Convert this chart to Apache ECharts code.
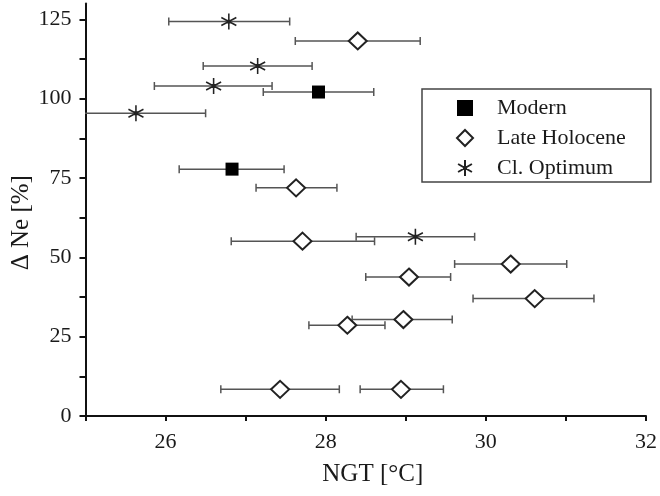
<!DOCTYPE html>
<html>
<head>
<meta charset="utf-8">
<script src="https://cdn.jsdelivr.net/npm/echarts@6/dist/echarts.min.js"></script>
<style>
  html, body { margin: 0; padding: 0; background: #fff; }
  #chart { width: 660px; height: 496px; }
</style>
</head>
<body>
<div id="chart"></div>
<script>
// Noble gas temperature (NGT) vs. neon excess, with horizontal NGT uncertainty
const modernX  = [27.91, 26.83];
const modernY  = [102.1, 77.8];
const modernLo = [27.22, 26.17];
const modernHi = [28.60, 27.48];

const lateX  = [28.40, 27.63, 27.71, 30.31, 29.04, 30.61, 28.97, 28.27, 27.43, 28.94];
const lateY  = [118.2, 71.9, 55.1, 47.9, 43.8, 37.0, 30.4, 28.6, 8.4, 8.4];
const lateLo = [27.62, 27.13, 26.82, 29.61, 28.50, 29.84, 28.33, 27.79, 26.69, 28.43];
const lateHi = [29.18, 28.14, 28.61, 31.01, 29.56, 31.35, 29.58, 28.74, 28.17, 29.47];

const optX  = [26.79, 27.15, 26.60, 25.63, 29.12];
const optY  = [124.3, 110.3, 104.0, 95.4, 56.5];
const optLo = [26.04, 26.47, 25.86, 24.76, 28.38];
const optHi = [27.55, 27.83, 27.33, 26.50, 29.86];

const seriesNames = ['Modern', 'Late Holocene', 'Cl. Optimum'];

const xTicks  = [25, 26, 27, 28, 29, 30, 31, 32];
const xLabels = [26, 28, 30, 32];
const yTicks  = [0, 12.5, 25, 37.5, 50, 62.5, 75, 87.5, 100, 112.5, 125];
const yLabels = [0, 25, 50, 75, 100, 125];

const FONT = 'Liberation Serif';
const INK = '#1a1a1a';

const pairs = (xs, ys) => xs.map((x, i) => [x, ys[i]]);
const bars = (lo, hi, ys) => ys.map((y, i) => [lo[i], hi[i], y]);

const errorData = []
  .concat(bars(modernLo, modernHi, modernY))
  .concat(bars(lateLo, lateHi, lateY))
  .concat(bars(optLo, optHi, optY));

const asterisk = 'path://M10,0L10,20M1.34,5L18.66,15M1.34,15L18.66,5M8.6,8.6L11.4,8.6L11.4,11.4L8.6,11.4Z';

const chart = echarts.init(document.getElementById('chart'), null, { renderer: 'canvas' });

chart.setOption({
  animation: false,
  backgroundColor: '#fff',
  textStyle: { fontFamily: FONT, color: INK },
  grid: { left: 85.5, right: 14, top: 3.5, bottom: 80, containLabel: false, outerBoundsMode: 'none' },
  xAxis: {
    type: 'value',
    min: 25, max: 32, interval: 1,
    name: 'NGT [°C]',
    nameLocation: 'middle',
    nameGap: 46,
    nameMoveOverlap: false,
    nameTextStyle: { fontFamily: FONT, fontSize: 25, color: INK, padding: [0, 0, 0, 14] },
    axisLine: { show: true, onZero: false, lineStyle: { color: '#111', width: 2 } },
    axisTick: { show: true, length: 5, customValues: xTicks, lineStyle: { color: '#111', width: 2 } },
    axisLabel: { customValues: xLabels, margin: 15, fontFamily: FONT, fontSize: 22, color: INK },
    splitLine: { show: false }
  },
  yAxis: {
    type: 'value',
    min: 0, max: 130, interval: 12.5,
    name: 'Δ Ne [%]',
    nameLocation: 'middle',
    nameGap: 52,
    nameMoveOverlap: false,
    nameRotate: 90,
    nameTextStyle: { fontFamily: FONT, fontSize: 25, color: INK, padding: [0, 26, 0, 0] },
    axisLine: { show: true, onZero: false, lineStyle: { color: '#111', width: 2 } },
    axisTick: { show: true, length: 6, customValues: yTicks, lineStyle: { color: '#111', width: 2 } },
    axisLabel: { customValues: yLabels, margin: 14, fontFamily: FONT, fontSize: 22, color: INK },
    splitLine: { show: false }
  },
  legend: {
    data: seriesNames,
    orient: 'vertical',
    left: 422, top: 89,
    padding: [8, 25, 3, 34],
    itemWidth: 16, itemHeight: 16, itemGap: 8,
    borderColor: '#444', borderWidth: 1.5,
    backgroundColor: '#fff',
    textStyle: { fontFamily: FONT, fontSize: 22, color: INK, padding: [0, 0, 0, 19] }
  },
  series: [
    {
      type: 'custom',
      clip: true,
      silent: true,
      z: 1,
      data: errorData,
      renderItem: function (params, api) {
        const y = api.value(2);
        const a = api.coord([api.value(0), y]);
        const b = api.coord([api.value(1), y]);
        const cap = 4;
        const st = { stroke: '#555', lineWidth: 1.5 };
        return {
          type: 'group',
          children: [
            { type: 'line', shape: { x1: a[0], y1: a[1], x2: b[0], y2: b[1] }, style: st },
            { type: 'line', shape: { x1: a[0], y1: a[1] - cap, x2: a[0], y2: a[1] + cap }, style: st },
            { type: 'line', shape: { x1: b[0], y1: b[1] - cap, x2: b[0], y2: b[1] + cap }, style: st }
          ]
        };
      }
    },
    {
      name: 'Modern',
      type: 'scatter',
      z: 3,
      symbol: 'rect',
      symbolSize: 13,
      itemStyle: { color: '#000', borderColor: '#000', borderWidth: 0, opacity: 1 },
      data: pairs(modernX, modernY)
    },
    {
      name: 'Late Holocene',
      type: 'scatter',
      z: 3,
      symbol: 'diamond',
      symbolSize: [18, 17],
      itemStyle: { color: '#fff', borderColor: '#222', borderWidth: 2, opacity: 1 },
      data: pairs(lateX, lateY)
    },
    {
      name: 'Cl. Optimum',
      type: 'scatter',
      z: 3,
      symbol: asterisk,
      symbolSize: [15, 16],
      itemStyle: { color: '#000', borderColor: '#222', borderWidth: 1.6, opacity: 1 },
      data: pairs(optX, optY)
    }
  ]
});
</script>
</body>
</html>
